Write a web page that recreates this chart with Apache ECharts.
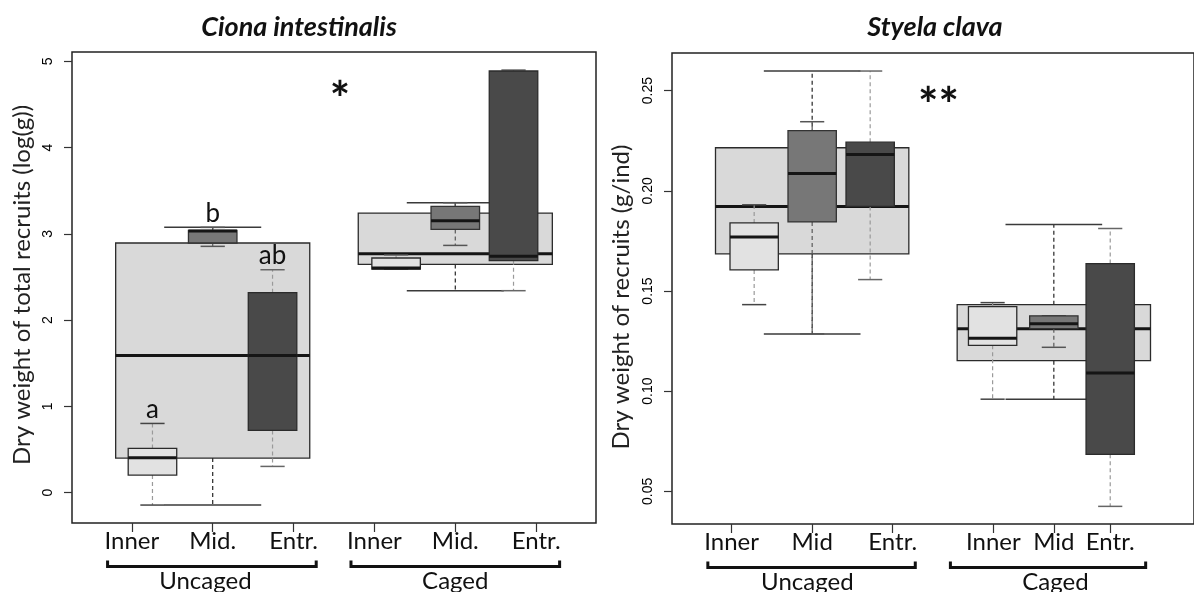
<!DOCTYPE html>
<html>
<head>
<meta charset="utf-8">
<script src="https://cdn.jsdelivr.net/npm/echarts@6/dist/echarts.min.js"></script>
<style>
  html, body { margin: 0; padding: 0; background: #fff; }
  #chart { width: 1194px; height: 592px; }
</style>
</head>
<body>
<div id="chart"></div>
<script>
// 分组与位置名称
const groups = ["Uncaged", "Caged"];
const cionaSites = ["Inner", "Mid.", "Entr.", "Inner", "Mid.", "Entr."];
const styelaSites = ["Inner", "Mid", "Entr.", "Inner", "Mid", "Entr."];

// 五数概括: [下须, Q1, 中位数, Q3, 上须]
const cionaPooled = [
  [-0.143, 0.402, 1.592, 2.895, 3.076],
  [2.342, 2.647, 2.771, 3.242, 3.362],
];
const cionaBySite = [
  [-0.143, 0.205, 0.406, 0.514, 0.803],
  [2.856, 2.895, 3.034, 3.041, 3.076],
  [0.305, 0.722, 1.592, 2.319, 2.585],
  [2.593, 2.593, 2.605, 2.721, 2.759],
  [2.867, 3.052, 3.153, 3.319, 3.362],
  [2.342, 2.69, 2.74, 4.889, 4.9],
];
const cionaLetters = ["a", "b", "ab", "", "", ""];

const styelaPooled = [
  [0.1286, 0.1685, 0.1922, 0.2215, 0.2598],
  [0.096, 0.1152, 0.1311, 0.1432, 0.1832],
];
const styelaBySite = [
  [0.1432, 0.1605, 0.177, 0.184, 0.193],
  [0.1286, 0.1845, 0.2086, 0.2301, 0.2345],
  [0.1557, 0.1922, 0.2181, 0.2243, 0.2598],
  [0.096, 0.1229, 0.1264, 0.1422, 0.1442],
  [0.1219, 0.1312, 0.1336, 0.1376, 0.1376],
  [0.0425, 0.0685, 0.1091, 0.1637, 0.1812],
];
const styelaLetters = ["", "", "", "", "", ""];

// 坐标轴刻度
const cionaTicks = [0, 1, 2, 3, 4, 5];
const styelaTicks = [0.05, 0.1, 0.15, 0.2, 0.25];

// 显著性标记
const cionaSig = "*";
const styelaSig = "**";

// ---- 布局（x 轴单位） ----
const pooledAt = [2, 5];
const pooledWidth = 2.4;
const siteWidth = 0.6;
const cionaSiteAt = [1.255, 2, 2.74, 4.268, 5, 5.72];
const styelaSiteAt = [1.28, 2, 2.72, 4.24, 5, 5.7];
const cionaTickAt = [1, 2, 3, 4, 5, 6];
const styelaTickAt = [1, 2, 3, 4.25, 5, 5.7];
const cionaBracket = [[0.7, 3.28], [3.71, 6.29]];
const styelaBracket = [[0.705, 3.28], [3.716, 6.14]];
const cionaGroupLabelAt = [1.91, 5.0];
const styelaGroupLabelAt = [1.94, 5.02];
const cionaSigAt = [3.574, 4.678];
const styelaSigAt = [3.568, 0.2476];

const FONT = "Lato, 'Open Sans', sans-serif";

// 箱体样式: 0 合并, 1 Inner, 2 Mid, 3 Entr
const shade = [
  { fill: "#d9d9d9", border: "#2b2b2b", whisker: "#262626", cap: "#3a3a3a" },
  { fill: "#e2e2e2", border: "#2b2b2b", whisker: "#9a9a9a", cap: "#444444" },
  { fill: "#777777", border: "#333333", whisker: "#5a5a5a", cap: "#555555" },
  { fill: "#494949", border: "#2b2b2b", whisker: "#9a9a9a", cap: "#666666" },
];

const boxRenderer = (kindOf, letters) => (params, api) => {
  const at = api.value(0);
  const half = api.value(1) / 2;
  const lo = api.value(2), q1 = api.value(3), md = api.value(4), q3 = api.value(5), hi = api.value(6);
  const st = shade[kindOf(params.dataIndex)];
  const tl = api.coord([at - half, q3]);
  const br = api.coord([at + half, q1]);
  const cx = api.coord([at, md])[0];
  const yMd = api.coord([at, md])[1];
  const yLo = api.coord([at, lo])[1];
  const yHi = api.coord([at, hi])[1];
  const w = br[0] - tl[0];
  const cap = w / 4;
  const dash = { stroke: st.whisker, lineWidth: 1.2, lineDash: [4, 3] };
  const capStyle = { stroke: st.cap, lineWidth: 1.5 };
  const children = [
    { type: "line", shape: { x1: cx, y1: tl[1], x2: cx, y2: yHi }, style: dash },
    { type: "line", shape: { x1: cx, y1: br[1], x2: cx, y2: yLo }, style: dash },
    { type: "line", shape: { x1: cx - cap, y1: yHi, x2: cx + cap, y2: yHi }, style: capStyle },
    { type: "line", shape: { x1: cx - cap, y1: yLo, x2: cx + cap, y2: yLo }, style: capStyle },
    {
      type: "rect",
      shape: { x: tl[0], y: tl[1], width: w, height: br[1] - tl[1] },
      style: { fill: st.fill, stroke: st.border, lineWidth: 1.3 },
    },
    { type: "line", shape: { x1: tl[0], y1: yMd, x2: br[0], y2: yMd }, style: { stroke: "#151515", lineWidth: 3 } },
  ];
  const letter = letters ? letters[params.dataIndex] : "";
  if (letter) {
    children.push({
      type: "text",
      x: cx,
      y: yHi - 1,
      style: { text: letter, font: "26px " + FONT, fill: "#111", align: "center", verticalAlign: "bottom" },
    });
  }
  return { type: "group", children };
};

const bracketRenderer = (labelAt) => (params, api) => {
  const cs = params.coordSys;
  const bottom = cs.y + cs.height;
  const x1 = api.coord([api.value(0), 0])[0];
  const x2 = api.coord([api.value(1), 0])[0];
  const xm = api.coord([labelAt[params.dataIndex], 0])[0];
  const y = bottom + 43.5;
  return {
    type: "group",
    children: [
      {
        type: "polyline",
        shape: { points: [[x1, y - 6], [x1, y], [x2, y], [x2, y - 6]] },
        style: { stroke: "#111", lineWidth: 3, fill: null },
      },
      {
        type: "text",
        x: xm,
        y: bottom + 58,
        style: { text: groups[params.dataIndex], font: "24px " + FONT, fill: "#111", align: "center", verticalAlign: "middle" },
      },
    ],
  };
};

const sigRenderer = (text) => (params, api) => {
  const p = api.coord([api.value(0), api.value(1)]);
  return {
    type: "text",
    x: p[0],
    y: p[1] + 11,
    style: { text, font: "bold 48px " + FONT, fill: "#111", align: "center", verticalAlign: "middle" },
  };
};

const buildSeries = (gi, pooled, bySite, siteAt, letters, bracket, labelAt, sigAt, sig) => [
  {
    type: "custom",
    xAxisIndex: gi,
    yAxisIndex: gi,
    z: 2,
    clip: false,
    renderItem: boxRenderer(() => 0, null),
    data: pooled.map((s, i) => [pooledAt[i], pooledWidth].concat(s)),
  },
  {
    type: "custom",
    xAxisIndex: gi,
    yAxisIndex: gi,
    z: 3,
    clip: false,
    renderItem: boxRenderer((i) => (i % 3) + 1, letters),
    data: bySite.map((s, i) => [siteAt[i], siteWidth].concat(s)),
  },
  {
    type: "custom",
    xAxisIndex: gi,
    yAxisIndex: gi,
    z: 4,
    clip: false,
    renderItem: bracketRenderer(labelAt),
    data: bracket,
  },
  {
    type: "custom",
    xAxisIndex: gi,
    yAxisIndex: gi,
    z: 4,
    clip: false,
    renderItem: sigRenderer(sig),
    data: [sigAt],
  },
];

const xAxisOf = (gi, tickAt, names) => ({
  type: "value",
  gridIndex: gi,
  min: 0.26,
  max: 6.74,
  axisLine: { show: false, onZero: false },
  splitLine: { show: false },
  axisTick: { show: true, customValues: tickAt, length: 9, lineStyle: { color: "#333", width: 1.2 } },
  axisLabel: {
    customValues: tickAt,
    formatter: (v) => names[tickAt.findIndex((t) => Math.abs(t - v) < 1e-6)] || "",
    fontFamily: FONT,
    fontSize: 24,
    color: "#111",
    margin: 6,
  },
});

const yAxisOf = (gi, min, max, ticks, fmt) => ({
  type: "value",
  gridIndex: gi,
  min,
  max,
  axisLine: { show: false, onZero: false },
  splitLine: { show: false },
  axisTick: { show: true, customValues: ticks, length: 8, lineStyle: { color: "#333", width: 1.2 } },
  axisLabel: {
    customValues: ticks,
    formatter: fmt,
    rotate: 90,
    margin: 17,
    fontFamily: "'Liberation Sans', Arial, sans-serif",
    fontSize: 14,
    color: "#000",
  },
});

const chart = echarts.init(document.getElementById("chart"));

const option = {
  animation: false,
  backgroundColor: "#fff",
  grid: [
    { left: 72, top: 52, width: 524, height: 471, show: true, borderColor: "#222", borderWidth: 1.5 },
    { left: 672, top: 53, width: 527, height: 471, show: true, borderColor: "#222", borderWidth: 1.5 },
  ],
  xAxis: [xAxisOf(0, cionaTickAt, cionaSites), xAxisOf(1, styelaTickAt, styelaSites)],
  yAxis: [
    yAxisOf(0, -0.351, 5.109, cionaTicks, (v) => String(Math.round(v))),
    yAxisOf(1, 0.0337, 0.2688, styelaTicks, (v) => v.toFixed(2)),
  ],
  graphic: [
    {
      type: "text",
      x: 299,
      y: 27,
      style: { text: "Ciona intestinalis", font: "italic bold 27px " + FONT, fill: "#111", align: "center", verticalAlign: "middle" },
    },
    {
      type: "text",
      x: 935,
      y: 27,
      style: { text: "Styela clava", font: "italic bold 27px " + FONT, fill: "#111", align: "center", verticalAlign: "middle" },
    },
    {
      type: "text",
      x: 22,
      y: 285,
      rotation: Math.PI / 2,
      style: { text: "Dry weight of total recruits (log(g))", font: "24px " + FONT, fill: "#222", align: "center", verticalAlign: "middle" },
    },
    {
      type: "text",
      x: 621,
      y: 297,
      rotation: Math.PI / 2,
      style: { text: "Dry weight of recruits (g/ind)", font: "24px " + FONT, fill: "#222", align: "center", verticalAlign: "middle" },
    },
  ],
  series: [
    ...buildSeries(0, cionaPooled, cionaBySite, cionaSiteAt, cionaLetters, cionaBracket, cionaGroupLabelAt, cionaSigAt, cionaSig),
    ...buildSeries(1, styelaPooled, styelaBySite, styelaSiteAt, styelaLetters, styelaBracket, styelaGroupLabelAt, styelaSigAt, styelaSig),
  ],
};

chart.setOption(option);
</script>
</body>
</html>
